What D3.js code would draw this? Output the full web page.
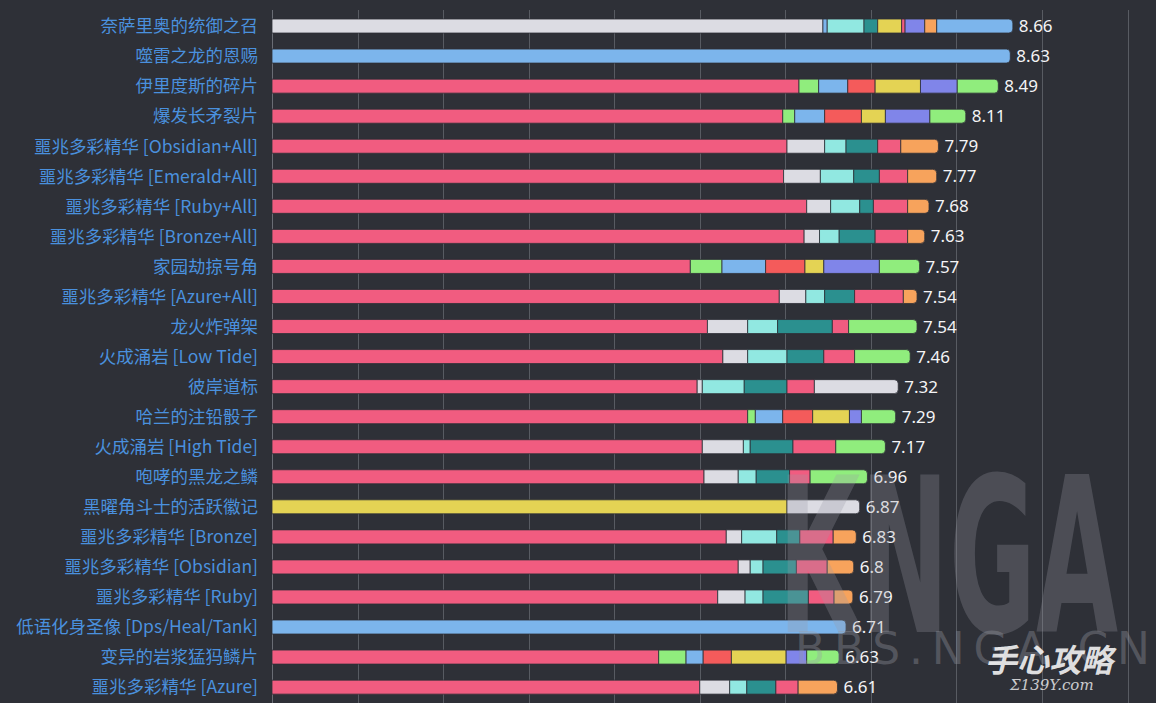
<!DOCTYPE html>
<html>
<head>
<meta charset="utf-8">
<script src="https://cdn.jsdelivr.net/npm/d3@7"></script>
<style>
  html, body { margin: 0; padding: 0; background: #2e3037; }
  svg { display: block; }
</style>
</head>
<body>
<svg id="chart" width="1156" height="703"></svg>
<script>
// ---------- DATA ----------
const categories = [
  "奈萨里奥的统御之召", "噬雷之龙的恩赐", "伊里度斯的碎片", "爆发长矛裂片",
  "噩兆多彩精华 [Obsidian+All]", "噩兆多彩精华 [Emerald+All]", "噩兆多彩精华 [Ruby+All]",
  "噩兆多彩精华 [Bronze+All]", "家园劫掠号角", "噩兆多彩精华 [Azure+All]", "龙火炸弹架",
  "火成涌岩 [Low Tide]", "彼岸道标", "哈兰的注铅骰子", "火成涌岩 [High Tide]",
  "咆哮的黑龙之鳞", "黑曜角斗士的活跃徽记", "噩兆多彩精华 [Bronze]", "噩兆多彩精华 [Obsidian]",
  "噩兆多彩精华 [Ruby]", "低语化身圣像 [Dps/Heal/Tank]", "变异的岩浆猛犸鳞片", "噩兆多彩精华 [Azure]"
];
const totals = [8.66, 8.63, 8.49, 8.11, 7.79, 7.77, 7.68, 7.63, 7.57, 7.54, 7.54, 7.46,
                7.32, 7.29, 7.17, 6.96, 6.87, 6.83, 6.8, 6.79, 6.71, 6.63, 6.61];
// segment kinds per row (P pink, W light, B blue, C cyan, T teal, Y yellow, U purple, O orange, G green, R red)
const segKinds = [
  ["W","B","C","T","Y","P","U","O","B"],
  ["B"],
  ["P","G","B","R","Y","U","G"],
  ["P","G","B","R","Y","U","G"],
  ["P","W","C","T","P","O"],
  ["P","W","C","T","P","O"],
  ["P","W","C","T","P","O"],
  ["P","W","C","T","P","O"],
  ["P","G","B","R","Y","U","G"],
  ["P","W","C","T","P","O"],
  ["P","W","C","T","P","G"],
  ["P","W","C","T","P","G"],
  ["P","W","C","T","P","W"],
  ["P","G","B","R","Y","U","G"],
  ["P","W","C","T","P","G"],
  ["P","W","C","T","P","G"],
  ["Y","W"],
  ["P","W","C","T","P","O"],
  ["P","W","C","T","P","O"],
  ["P","W","C","T","P","O"],
  ["B"],
  ["P","G","B","R","Y","U","G"],
  ["P","W","C","T","P","O"]
];
const segValues = [
  [6.44, 0.05, 0.43, 0.16, 0.28, 0.04, 0.23, 0.14, 0.89],
  [8.63],
  [6.16, 0.23, 0.34, 0.32, 0.53, 0.43, 0.48],
  [5.97, 0.14, 0.35, 0.43, 0.28, 0.52, 0.42],
  [6.02, 0.44, 0.25, 0.37, 0.27, 0.44],
  [5.98, 0.43, 0.39, 0.30, 0.33, 0.34],
  [6.25, 0.28, 0.34, 0.16, 0.40, 0.25],
  [6.22, 0.18, 0.23, 0.42, 0.38, 0.20],
  [4.89, 0.37, 0.51, 0.46, 0.22, 0.65, 0.47],
  [5.93, 0.31, 0.22, 0.35, 0.57, 0.16],
  [5.09, 0.47, 0.35, 0.64, 0.19, 0.80],
  [5.27, 0.29, 0.46, 0.43, 0.36, 0.65],
  [4.97, 0.06, 0.49, 0.50, 0.32, 0.98],
  [5.56, 0.09, 0.32, 0.35, 0.43, 0.14, 0.40],
  [5.03, 0.48, 0.08, 0.50, 0.50, 0.58],
  [5.05, 0.40, 0.21, 0.39, 0.24, 0.67],
  [6.02, 0.85],
  [5.31, 0.18, 0.41, 0.27, 0.39, 0.27],
  [5.45, 0.14, 0.15, 0.39, 0.36, 0.31],
  [5.21, 0.32, 0.21, 0.53, 0.30, 0.22],
  [6.71],
  [4.52, 0.32, 0.20, 0.33, 0.64, 0.24, 0.38],
  [5.00, 0.35, 0.20, 0.34, 0.26, 0.46]
];
const kindKeys = ["P","W","B","C","T","Y","U","O","G","R"];
const kindColors = ["#f15c80","#dcdce3","#7cb5ec","#91e8e1","#2b908f","#e4d354","#8085e9","#f7a35c","#90ed7d","#f45b5b"];
const xTicks = [0,1,2,3,4,5,6,7,8,9,10];

// ---------- CHART ----------
const W = 1156, H = 703;
const svg = d3.select("#chart");
svg.append("rect").attr("width", W).attr("height", H).attr("fill", "#2e3037");

const x = d3.scaleLinear().domain([0, 10]).range([272, 1127.5]);
const y = d3.scaleBand().domain(categories).range([11, 11 + 30.05 * categories.length]).paddingInner(0).paddingOuter(0);
const color = d3.scaleOrdinal().domain(kindKeys).range(kindColors);
const barH = 14;

// grid
svg.append("g").selectAll("line").data(xTicks).join("line")
  .attr("x1", d => Math.round(x(d)) + 0.5).attr("x2", d => Math.round(x(d)) + 0.5)
  .attr("y1", 10).attr("y2", H)
  .attr("stroke", d => d === 0 ? "#6a6d75" : "#585b62").attr("stroke-width", 1);

const rows = categories.map((c, i) => {
  let acc = 0;
  const segs = segValues[i].map((v, j) => {
    const s = { kind: segKinds[i][j], x0: acc, x1: acc + v, last: j === segValues[i].length - 1 };
    acc += v;
    return s;
  });
  return { cat: c, total: totals[i], segs };
});

function segPath(s, yc) {
  const x0 = x(s.x0), x1 = x(s.x1), t = yc - barH / 2, b = yc + barH / 2;
  if (!s.last) return `M${x0},${t}H${x1}V${b}H${x0}Z`;
  const r = Math.min(4, (x1 - x0));
  return `M${x0},${t}H${x1 - r}Q${x1},${t} ${x1},${t + r}V${b - r}Q${x1},${b} ${x1 - r},${b}H${x0}Z`;
}

const rowG = svg.append("g").selectAll("g").data(rows).join("g");
rowG.selectAll("path").data(d => d.segs.map(s => ({ s, cat: d.cat }))).join("path")
  .attr("d", d => segPath(d.s, y(d.cat) + y.bandwidth() / 2))
  .attr("fill", d => color(d.s.kind))
  .attr("stroke", "#2e3037").attr("stroke-width", 0.8);

// value labels
rowG.append("text")
  .attr("x", d => x(d3.sum(d.segs, s => s.x1 - s.x0)) + 6)
  .attr("y", d => y(d.cat) + y.bandwidth() / 2)
  .attr("dy", "0.36em")
  .attr("fill", "#f4f4f6")
  .attr("font-family", "'Noto Sans', 'Open Sans', sans-serif")
  .attr("font-size", 17)
  .text(d => d.total);

// category labels
svg.append("g").selectAll("text").data(categories).join("text")
  .attr("x", 258)
  .attr("y", d => y(d) + y.bandwidth() / 2)
  .attr("dy", "0.36em")
  .attr("text-anchor", "end")
  .attr("fill", "#4a90de")
  .attr("font-family", "'Noto Sans CJK SC', 'Noto Sans', sans-serif")
  .attr("font-size", 17.5)
  .text(d => d);

// watermark
const wm = svg.append("g").attr("pointer-events", "none");
wm.append("text").attr("x", 778).attr("y", 632)
  .attr("font-family", "'DejaVu Sans Condensed', 'DejaVu Sans', sans-serif")
  .attr("font-weight", "bold").attr("font-size", 215)
  .attr("textLength", 340).attr("lengthAdjust", "spacingAndGlyphs")
  .attr("fill", "#9a9ca6").attr("fill-opacity", 0.28)
  .text("KNGA");
wm.append("text").attr("x", 795).attr("y", 664)
  .attr("font-family", "'DejaVu Sans', sans-serif")
  .attr("font-size", 44)
  .attr("textLength", 355).attr("lengthAdjust", "spacing")
  .attr("fill", "#9a9ca6").attr("fill-opacity", 0.35)
  .text("BBS.NGA.CN");
wm.append("text").attr("x", 985).attr("y", 672)
  .attr("font-family", "'Noto Sans CJK SC', sans-serif")
  .attr("font-weight", "bold").attr("font-style", "italic").attr("font-size", 32)
  .attr("fill", "#ffffff").attr("fill-opacity", 0.85)
  .text("手心攻略");
wm.append("text").attr("x", 1010).attr("y", 690)
  .attr("font-family", "'DejaVu Serif', serif")
  .attr("font-style", "italic").attr("font-size", 15)
  .attr("fill", "#ffffff").attr("fill-opacity", 0.75)
  .text("Σ139Y.com");
</script>
</body>
</html>
